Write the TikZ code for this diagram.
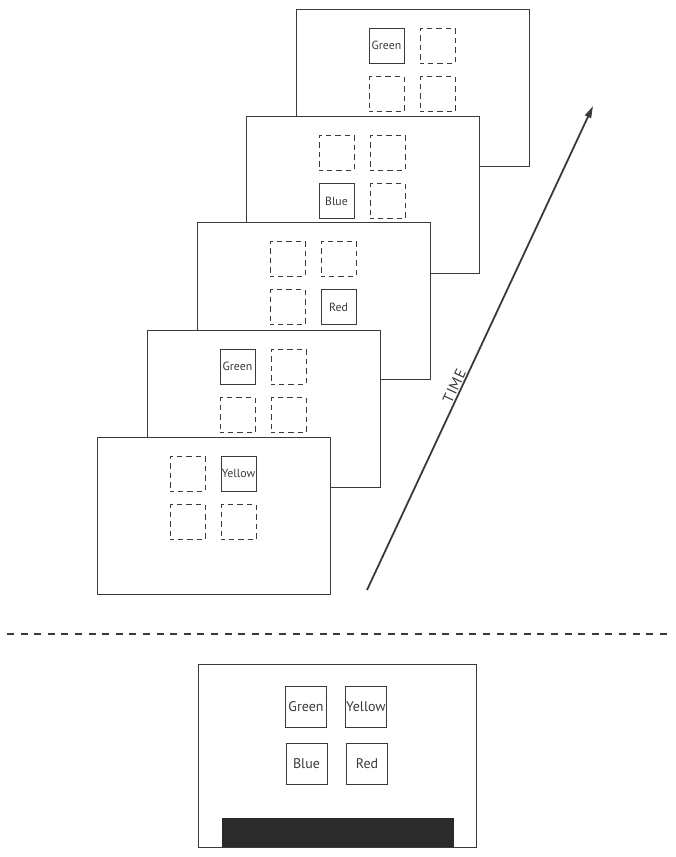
\documentclass[tikz,border=0pt]{standalone}
\usepackage{fontspec}
\setmainfont{PT Sans}
\usetikzlibrary{arrows.meta}
\definecolor{ink}{HTML}{3A3A3A}
\definecolor{barc}{HTML}{2B2B2B}
\tikzset{
  frame/.style={draw=ink, line width=1pt, fill=white, minimum width=233pt, minimum height=157pt, inner sep=0pt, outer sep=0pt, anchor=north west},
  sq/.style={draw=ink, line width=1pt, minimum size=35pt, inner sep=0pt, font=\fontsize{11.8}{13}\selectfont, text=ink},
  dsq/.style={sq, dash pattern=on 5.5pt off 4pt, dash phase=2pt},
  bigsq/.style={draw=ink, line width=1pt, minimum size=41pt, inner sep=0pt, font=\fontsize{14}{16}\selectfont, text=ink},
  sep/.style={draw=ink, line width=2pt, dash pattern=on 7pt off 6.6pt},
  timearrow/.style={draw=ink, line width=1.8pt, -{Triangle[length=12pt,width=6.5pt]}},
  timelabel/.style={pos=0.415, sloped, above, inner sep=1pt, text=ink, font=\fontsize{15}{16}\selectfont\addfontfeatures{LetterSpace=6}},
}
\begin{document}
\begin{tikzpicture}[x=1pt,y=-1pt]
\useasboundingbox (0,0) rectangle (676,857);
% frame 5 (back)
\begin{scope}[shift={(296,9)}]
  \node[frame] (f5) at (0,0) {};
  \node[sq]  (f5a) at (90.5,36.5) {Green};
  \node[dsq] (f5b) at (141.5,36.5) {};
  \node[dsq] (f5c) at (90.5,85) {};
  \node[dsq] (f5d) at (141.5,85) {};
\end{scope}
% frame 4
\begin{scope}[shift={(246,116)}]
  \node[frame] (f4) at (0,0) {};
  \node[dsq] (f4a) at (90.5,36.5) {};
  \node[dsq] (f4b) at (141.5,36.5) {};
  \node[sq]  (f4c) at (90.5,85) {Blue};
  \node[dsq] (f4d) at (141.5,85) {};
\end{scope}
% frame 3
\begin{scope}[shift={(197,222)}]
  \node[frame] (f3) at (0,0) {};
  \node[dsq] (f3a) at (90.5,36.5) {};
  \node[dsq] (f3b) at (141.5,36.5) {};
  \node[dsq] (f3c) at (90.5,85) {};
  \node[sq]  (f3d) at (141.5,85) {Red};
\end{scope}
% frame 2
\begin{scope}[shift={(147,330)}]
  \node[frame] (f2) at (0,0) {};
  \node[sq]  (f2a) at (90.5,36.5) {Green};
  \node[dsq] (f2b) at (141.5,36.5) {};
  \node[dsq] (f2c) at (90.5,85) {};
  \node[dsq] (f2d) at (141.5,85) {};
\end{scope}
% frame 1 (front)
\begin{scope}[shift={(97,437)}]
  \node[frame] (f1) at (0,0) {};
  \node[dsq] (f1a) at (90.5,36.5) {};
  \node[sq]  (f1b) at (141.5,36.5) {Yellow};
  \node[dsq] (f1c) at (90.5,85) {};
  \node[dsq] (f1d) at (141.5,85) {};
\end{scope}
% time arrow
\coordinate (tstart) at (367,590);
\coordinate (tend) at (593,106);
\draw[timearrow] (tstart) -- node[timelabel] {TIME} (tend);
% separator
\coordinate (sl) at (7,634);
\coordinate (sr) at (673,634);
\draw[sep] (sl) -- (sr);
% response screen
\node[draw=ink, line width=1pt, minimum width=278pt, minimum height=183pt, inner sep=0pt, anchor=north west] (resp) at (198,664) {};
\node[bigsq] (rg) at (306,706.5) {Green};
\node[bigsq] (ry) at (366,706.5) {Yellow};
\node[bigsq] (rb) at (306.5,763.5) {Blue};
\node[bigsq] (rr) at (367,763.5) {Red};
\node[fill=barc, minimum width=232pt, minimum height=29pt, inner sep=0pt, anchor=south west] (bar) at (222,847) {};
\end{tikzpicture}
\end{document}
